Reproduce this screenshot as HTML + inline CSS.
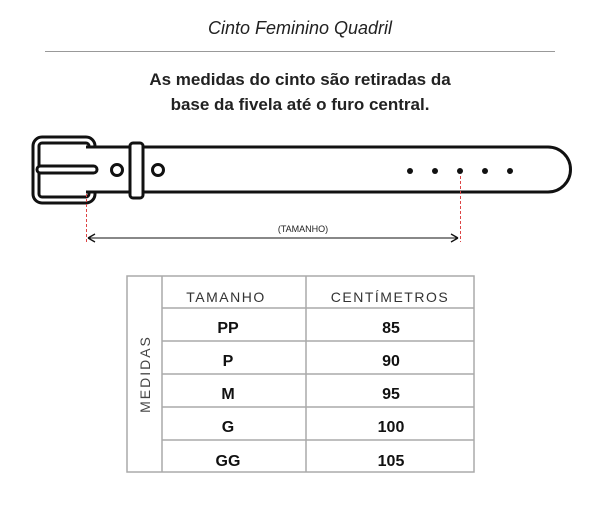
<!DOCTYPE html>
<html><head><meta charset="utf-8"><style>
body{margin:0;width:600px;height:500px;background:#fff;overflow:hidden;font-family:"Liberation Sans",sans-serif}
</style></head><body>
<svg width="600" height="500" viewBox="0 0 600 500" xmlns="http://www.w3.org/2000/svg" font-family="Liberation Sans, sans-serif">
<text x="300" y="34" text-anchor="middle" font-size="18" font-style="italic" fill="#222">Cinto Feminino Quadril</text>
<line x1="45" y1="51.5" x2="555" y2="51.5" stroke="#999" stroke-width="1"/>
<text x="300" y="85" text-anchor="middle" font-size="17" font-weight="bold" fill="#222">As medidas do cinto são retiradas da</text>
<text x="300" y="110" text-anchor="middle" font-size="17" font-weight="bold" fill="#222">base da fivela até o furo central.</text>
<!-- belt -->
<g fill="none" stroke="#111" stroke-width="3">
<rect x="33" y="137" width="62" height="66" rx="9"/>
<rect x="39" y="143" width="50" height="54" rx="3"/>
<path d="M86 147 H548 A22.5 22.5 0 0 1 548 192 H86" fill="#fff"/>
<rect x="37" y="166" width="60" height="7" rx="3.5" fill="#fff"/>
<rect x="130" y="143" width="13" height="55" rx="3" fill="#fff"/>
<circle cx="117" cy="170" r="5.5"/>
<circle cx="158" cy="170" r="5.5"/>
</g>
<g fill="#111">
<circle cx="410" cy="171" r="3"/><circle cx="435" cy="171" r="3"/><circle cx="460" cy="171" r="3"/><circle cx="485" cy="171" r="3"/><circle cx="510" cy="171" r="3"/>
</g>
<g stroke="#d44" stroke-width="1" stroke-dasharray="3,2">
<line x1="86.5" y1="194" x2="86.5" y2="242"/>
<line x1="460.5" y1="176" x2="460.5" y2="242"/>
</g>
<line x1="88" y1="238" x2="458" y2="238" stroke="#111" stroke-width="1"/>
<path d="M88 238 l7 -4 M88 238 l7 4 M458 238 l-7 -4 M458 238 l-7 4" stroke="#111" stroke-width="1.3" fill="none"/>
<text x="303" y="232" text-anchor="middle" font-size="9" fill="#222">(TAMANHO)</text>
<!-- table -->
<g stroke="#aaa" stroke-width="1.5" fill="none">
<rect x="127" y="276" width="347" height="196"/>
<line x1="162" y1="276" x2="162" y2="472"/>
<line x1="306" y1="276" x2="306" y2="472"/>
<line x1="162" y1="308" x2="474" y2="308"/>
<line x1="162" y1="341" x2="474" y2="341"/>
<line x1="162" y1="374" x2="474" y2="374"/>
<line x1="162" y1="407" x2="474" y2="407"/>
<line x1="162" y1="440" x2="474" y2="440"/>
</g>
<text transform="translate(150,374) rotate(-90)" text-anchor="middle" font-size="14" letter-spacing="2" fill="#444">MEDIDAS</text>
<g text-anchor="middle" fill="#333" font-size="14" letter-spacing="1.5">
<text x="226" y="302">TAMANHO</text>
<text x="390" y="302">CENTÍMETROS</text>
</g>
<g text-anchor="middle" fill="#111" font-size="16" font-weight="bold">
<text x="228" y="333">PP</text><text x="391" y="333">85</text>
<text x="228" y="366">P</text><text x="391" y="366">90</text>
<text x="228" y="399">M</text><text x="391" y="399">95</text>
<text x="228" y="432">G</text><text x="391" y="432">100</text>
<text x="228" y="466">GG</text><text x="391" y="466">105</text>
</g>
</svg>
</body></html>
